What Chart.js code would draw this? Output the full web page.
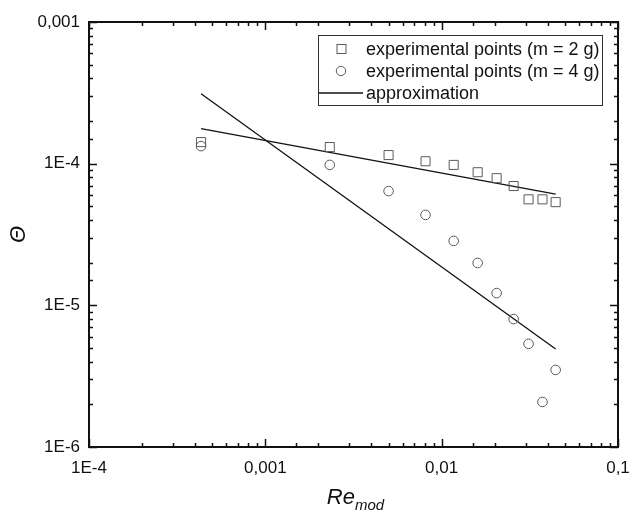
<!DOCTYPE html>
<html>
<head>
<meta charset="utf-8">
<script src="https://cdn.jsdelivr.net/npm/chart.js@4"></script>
<style>
  html, body { margin: 0; padding: 0; background: #fff; }
  #wrap { width: 630px; height: 511px; }
</style>
</head>
<body>
<div id="wrap"><canvas id="c" width="630" height="511"></canvas></div>
<script>
// values (log-log)
const reMod = [0.000432, 0.00232, 0.0050, 0.0081, 0.0117, 0.0160, 0.0205, 0.0256, 0.0311, 0.0373, 0.0443];
const theta2g = [1.42e-4, 1.31e-4, 1.15e-4, 1.04e-4, 9.8e-5, 8.7e-5, 7.9e-5, 6.95e-5, 5.6e-5, 5.6e-5, 5.35e-5];
const theta4g = [1.33e-4, 9.8e-5, 6.4e-5, 4.35e-5, 2.85e-5, 1.99e-5, 1.22e-5, 8.0e-6, 5.35e-6, 2.08e-6, 3.5e-6];

// approximation lines: end points
const approxX = [0.000432, 0.0443];
const approx2g = [1.77e-4, 6.1e-5];
const approx4g = [3.12e-4, 4.92e-6];

const xTickValues = [1e-4, 1e-3, 1e-2, 1e-1];
const xTickLabels = ['1E-4', '0,001', '0,01', '0,1'];
const yTickValues = [1e-6, 1e-5, 1e-4, 1e-3];
const yTickLabels = ['1E-6', '1E-5', '1E-4', '0,001'];

const seriesNames = ['experimental points (m = 2 g)', 'experimental points (m = 4 g)', 'approximation'];

const FONT = "'Liberation Sans', Arial, sans-serif";
const markerColor = '#5a5a5a';

function toPoints(xs, ys) {
  return xs.map((x, i) => ({ x: x, y: ys[i] }));
}

function isPow10(v) {
  let l = Math.log10(v);
  return Math.abs(l - Math.round(l)) < 1e-6;
}

function labelFor(v, vals, labels) {
  for (let i = 0; i < vals.length; i++) {
    if (Math.abs(Math.log10(v) - Math.log10(vals[i])) < 1e-6) return labels[i];
  }
  return '';
}

// box, inward ticks, titles and legend
const frame = {
  id: 'frame',
  afterDraw(chart) {
    const ctx = chart.ctx;
    const a = chart.chartArea;
    const xs = chart.scales.x, ys = chart.scales.y;
    ctx.save();
    ctx.strokeStyle = '#111';
    ctx.lineWidth = 1.5;
    ctx.beginPath();
    for (const t of xs.ticks) {
      const px = Math.round(xs.getPixelForValue(t.value)) + 0.5;
      const len = isPow10(t.value) ? 8 : 4;
      ctx.moveTo(px, a.bottom); ctx.lineTo(px, a.bottom - len);
      ctx.moveTo(px, a.top); ctx.lineTo(px, a.top + len);
    }
    for (const t of ys.ticks) {
      const py = Math.round(ys.getPixelForValue(t.value)) + 0.5;
      const len = isPow10(t.value) ? 8 : 4;
      ctx.moveTo(a.left, py); ctx.lineTo(a.left + len, py);
      ctx.moveTo(a.right, py); ctx.lineTo(a.right - len, py);
    }
    ctx.stroke();
    ctx.lineWidth = 2;
    ctx.strokeRect(a.left, a.top, a.right - a.left, a.bottom - a.top);

    // y title
    ctx.fillStyle = '#111';
    ctx.save();
    ctx.translate(19, (a.top + a.bottom) / 2);
    ctx.rotate(-Math.PI / 2);
    ctx.font = 'italic 22px ' + FONT;
    ctx.textAlign = 'center';
    ctx.textBaseline = 'middle';
    ctx.fillText('\u0398', 0, 0);
    ctx.restore();

    // x title with subscript
    ctx.font = 'italic 22px ' + FONT;
    ctx.textAlign = 'left';
    ctx.textBaseline = 'alphabetic';
    const w1 = ctx.measureText('Re').width;
    ctx.font = 'italic 15px ' + FONT;
    const w2 = ctx.measureText('mod').width;
    const x0 = (a.left + a.right) / 2 - (w1 + w2) / 2 + 2;
    ctx.font = 'italic 22px ' + FONT;
    ctx.fillText('Re', x0, 504);
    ctx.font = 'italic 15px ' + FONT;
    ctx.fillText('mod', x0 + w1, 510);

    // legend
    const lx = 318, ly = 35, lw = 284, lh = 70;
    ctx.strokeStyle = '#333';
    ctx.lineWidth = 1;
    ctx.strokeRect(lx + 0.5, ly + 0.5, lw, lh);
    ctx.font = '18px ' + FONT;
    ctx.textBaseline = 'middle';
    ctx.fillStyle = '#111';
    const rows = [ly + 14, ly + 36, ly + 58];
    ctx.strokeStyle = markerColor;
    ctx.strokeRect(341 - 4.5 + 0.5, rows[0] - 4.5, 9, 9);
    ctx.beginPath();
    ctx.arc(341, rows[1], 4.7, 0, Math.PI * 2);
    ctx.stroke();
    ctx.strokeStyle = '#111';
    ctx.lineWidth = 1.3;
    ctx.beginPath();
    ctx.moveTo(lx + 1, rows[2]); ctx.lineTo(363, rows[2]);
    ctx.stroke();
    for (let i = 0; i < 3; i++) {
      ctx.fillText(seriesNames[i], 366, rows[i] + 1);
    }
    ctx.restore();
  }
};

new Chart(document.getElementById('c'), {
  type: 'scatter',
  data: {
    datasets: [
      {
        label: seriesNames[0],
        data: toPoints(reMod, theta2g),
        pointStyle: 'rect',
        pointRadius: 6.4,
        borderColor: markerColor,
        backgroundColor: 'rgba(0,0,0,0)',
        borderWidth: 1,
        showLine: false
      },
      {
        label: seriesNames[1],
        data: toPoints(reMod, theta4g),
        pointStyle: 'circle',
        pointRadius: 4.8,
        borderColor: markerColor,
        backgroundColor: 'rgba(0,0,0,0)',
        borderWidth: 1,
        showLine: false
      },
      {
        label: seriesNames[2],
        data: toPoints(approxX, approx2g),
        showLine: true,
        pointRadius: 0,
        borderColor: '#111',
        borderWidth: 1.3
      },
      {
        label: seriesNames[2],
        data: toPoints(approxX, approx4g),
        showLine: true,
        pointRadius: 0,
        borderColor: '#111',
        borderWidth: 1.3
      }
    ]
  },
  options: {
    responsive: false,
    animation: false,
    layout: { padding: { left: 0, right: 12, top: 22, bottom: 0 } },
    plugins: {
      legend: { display: false },
      tooltip: { enabled: false }
    },
    scales: {
      x: {
        type: 'logarithmic',
        min: 1e-4,
        max: 0.1,
        grid: { display: false, drawTicks: false },
        border: { display: false },
        afterFit: (s) => { s.height = 64; s.paddingLeft = 0; s.paddingRight = 0; },
        ticks: {
          autoSkip: false,
          maxRotation: 0,
          padding: 11,
          color: '#111',
          font: { family: FONT, size: 17 },
          callback: (v) => labelFor(v, xTickValues, xTickLabels)
        }
      },
      y: {
        type: 'logarithmic',
        min: 1e-6,
        max: 1e-3,
        grid: { display: false, drawTicks: false },
        border: { display: false },
        afterFit: (s) => { s.width = 89; s.paddingTop = 0; s.paddingBottom = 0; },
        ticks: {
          autoSkip: false,
          padding: 9,
          color: '#111',
          font: { family: FONT, size: 17 },
          callback: (v) => labelFor(v, yTickValues, yTickLabels)
        }
      }
    }
  },
  plugins: [frame]
});
</script>
</body>
</html>
